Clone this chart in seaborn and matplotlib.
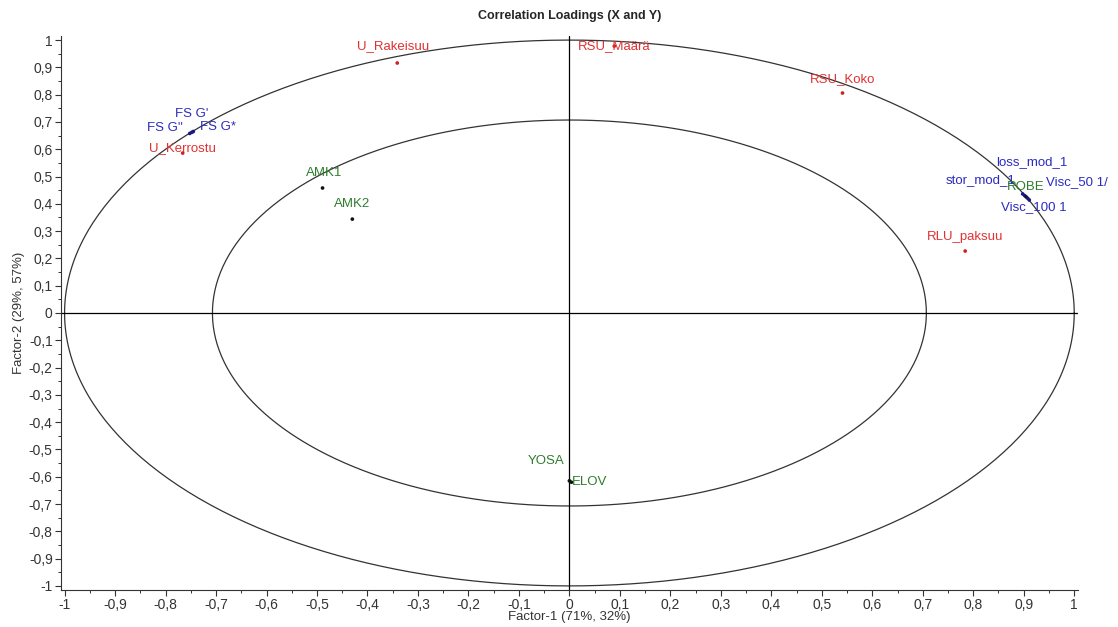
import numpy as np
import pandas as pd
import matplotlib
matplotlib.use("Agg")
import matplotlib.pyplot as plt
import seaborn as sns
from matplotlib.ticker import MultipleLocator, FuncFormatter

# loadings
names = ["FS G'", "FS G''", "FS G*", "U_Kerrostu", "U_Rakeisuu", "RSU_Määrä",
         "RSU_Koko", "RLU_paksuu", "AMK1", "AMK2", "YOSA", "ELOV",
         "loss_mod_1", "stor_mod_1", "ROBE", "Visc_50 1/", "Visc_100 1"]
factor1 = [-0.748, -0.752, -0.745, -0.766, -0.341, 0.089,
           0.541, 0.784, -0.489, -0.430, 0.000, 0.004,
           0.898, 0.902, 0.905, 0.908, 0.911]
factor2 = [0.662, 0.658, 0.665, 0.586, 0.916, 0.978,
           0.806, 0.227, 0.458, 0.344, -0.615, -0.620,
           0.436, 0.430, 0.425, 0.420, 0.414]
groups = ["X1", "X1", "X1", "X2", "X2", "X2",
          "X2", "X2", "Y", "Y", "Y", "Y",
          "X1", "X1", "Y", "X1", "X1"]

# label offsets in pixels (so overlapping names stay readable)
offsets = [(0, 18), (-25, 5), (25, 5), (0, 5), (-4, 17), (0, 0),
           (0, 14), (0, 14), (2, 15), (0, 15), (-23, 20), (18, 0),
           (9, 32), (-44, 16), (-1, 10), (49, 16), (5, -7)]

df = pd.DataFrame({"name": names, "f1": factor1, "f2": factor2, "grp": groups})

text_col = {"X1": "#2b2bc0", "X2": "#e03232", "Y": "#2e7d2e"}
dot_col = {"X1": "#1a1a80", "X2": "#d02020", "Y": "#111111"}

sns.set_style("white")
plt.rcParams["font.family"] = ["Liberation Sans", "DejaVu Sans"]

fig = plt.figure(figsize=(11.18, 6.27), dpi=100)
ax = fig.add_axes([0.0546, 0.059, 0.9094, 0.8836])

# correlation circles (100% and 50% explained variance)
t = np.linspace(0, 2 * np.pi, 400)
for r in [1.0, np.sqrt(0.5)]:
    ax.plot(r * np.cos(t), r * np.sin(t), color="#333333", lw=0.9, zorder=1)
ax.axhline(0, color="black", lw=0.9, zorder=1)
ax.axvline(0, color="black", lw=0.9, zorder=1)

sns.scatterplot(data=df, x="f1", y="f2", hue="grp", palette=dot_col,
                s=7, edgecolor="none", legend=False, ax=ax, zorder=3)

for i, row in df.iterrows():
    ax.annotate(row["name"], (row["f1"], row["f2"]), xytext=offsets[i],
                textcoords="offset pixels", ha="center", va="center",
                fontsize=9.5, color=text_col[row["grp"]], zorder=4,
                annotation_clip=False)

ax.set_xlim(-1.007, 1.007)
ax.set_ylim(-1.015, 1.015)
ax.xaxis.set_major_locator(MultipleLocator(0.1))
ax.xaxis.set_minor_locator(MultipleLocator(0.05))
ax.yaxis.set_major_locator(MultipleLocator(0.1))
ax.yaxis.set_minor_locator(MultipleLocator(0.05))


def comma(v, pos):
    s = "%.1f" % v
    if s in ("-0.0", "0.0"):
        return "0"
    if s.endswith(".0"):
        s = s[:-2]
    return s.replace(".", ",")


ax.xaxis.set_major_formatter(FuncFormatter(comma))
ax.yaxis.set_major_formatter(FuncFormatter(comma))
ax.tick_params(which="major", direction="out", length=4, width=0.8,
               labelsize=10, colors="#333333", pad=2, bottom=True, left=True)
ax.tick_params(which="minor", direction="out", length=2.5, width=0.7,
               colors="#333333", bottom=True, left=True)

for s in ["top", "right"]:
    ax.spines[s].set_visible(False)
for s in ["left", "bottom"]:
    ax.spines[s].set_color("#333333")
    ax.spines[s].set_linewidth(0.8)

ax.set_title("Correlation Loadings (X and Y)", fontsize=9, fontweight="bold", pad=12)
ax.set_xlabel("Factor-1 (71%, 32%)", fontsize=9.5, color="#333333", labelpad=-1)
ax.set_ylabel("Factor-2 (29%, 57%)", fontsize=9.5, color="#333333", labelpad=3)

fig.savefig("out.png", dpi=100)
